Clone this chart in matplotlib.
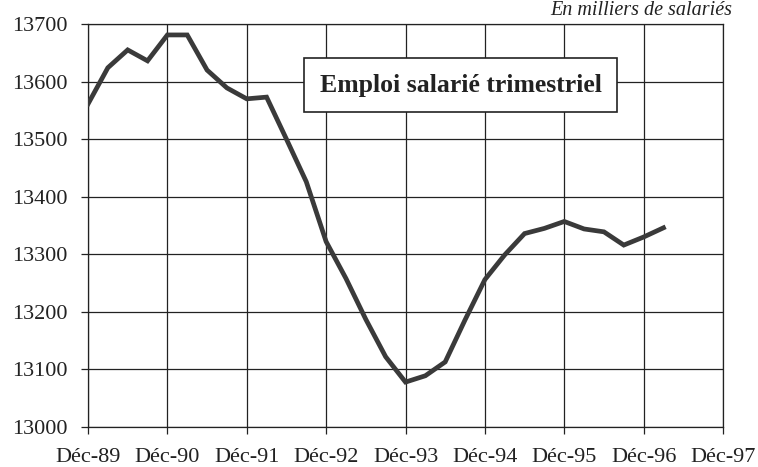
import matplotlib
matplotlib.use("Agg")
import matplotlib.pyplot as plt
import numpy as np

# Quarterly salaried employment (thousands), Dec-89 .. Mar-97
values = [13561, 13624, 13655, 13636, 13681, 13681, 13620, 13589, 13570, 13573,
          13500, 13426, 13322, 13258, 13187, 13122, 13078, 13089, 13113, 13186,
          13256, 13299, 13336, 13345, 13357, 13344, 13339, 13316, 13330, 13346]
tick_labels = ["Déc-89", "Déc-90", "Déc-91", "Déc-92", "Déc-93",
               "Déc-94", "Déc-95", "Déc-96", "Déc-97"]
y_ticks = [13000, 13100, 13200, 13300, 13400, 13500, 13600, 13700]
title = "Emploi salarié trimestriel"
unit = "En milliers de salariés"

plt.rcParams['font.family'] = ['Liberation Serif', 'DejaVu Serif']

fig = plt.figure(figsize=(7.58, 4.67), dpi=100)
ax = fig.add_axes([88/758, 1-427/467, (723-88)/758, (427-24)/467])

x = np.arange(len(values))
ax.plot(x, values, color='#3a3a3a', lw=3.4, solid_joinstyle='miter', zorder=3)

ax.set_xlim(0, 32)
ax.set_ylim(13000, 13700)
ax.set_xticks(np.arange(0, 33, 4))
ax.set_xticklabels(tick_labels)
ax.set_yticks(y_ticks)
ax.grid(True, color='#222222', lw=0.9)
for s in ax.spines.values():
    s.set_color('#222222')
    s.set_linewidth(0.9)
ax.tick_params(axis='both', direction='out', length=5, width=0.9, color='#222222',
               labelsize=16, labelcolor='#222222')
ax.tick_params(axis='y', pad=10)
ax.tick_params(axis='x', pad=10)

ax.text(0.5866, 0.8486, title, transform=ax.transAxes, ha='center', va='center',
        fontsize=18.5, fontweight='bold', color='#222222', zorder=5,
        bbox=dict(boxstyle='square,pad=0.6', fc='white', ec='#222222', lw=1.2))

fig.text(732/758, 1-1/467, unit, ha='right', va='top', fontsize=14.5,
         style='italic', color='#222222')

fig.savefig('out.png', dpi=100)
